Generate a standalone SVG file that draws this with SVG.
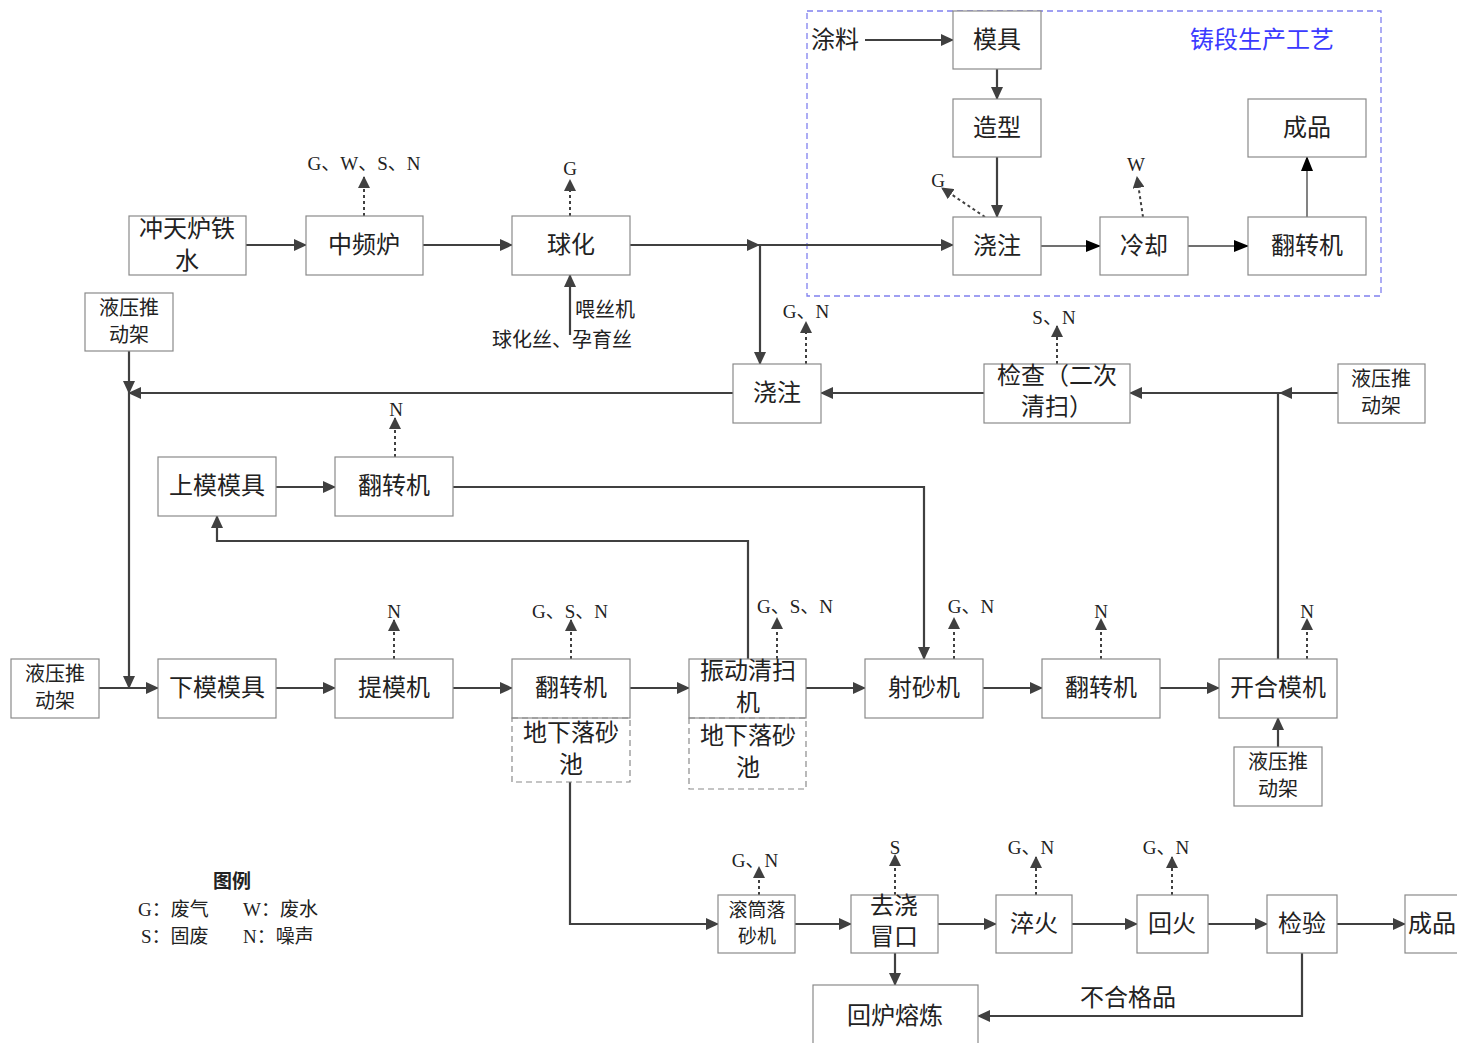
<svg xmlns="http://www.w3.org/2000/svg" width="1457" height="1043" viewBox="0 0 1457 1043">
<defs>
<marker id="arr" markerUnits="userSpaceOnUse" markerWidth="13" markerHeight="12" refX="12" refY="6" orient="auto"><path d="M0,0 L13,6 L0,12 z" fill="#404040"/></marker>
<marker id="arrk" markerUnits="userSpaceOnUse" markerWidth="15" markerHeight="12" refX="14" refY="6" orient="auto"><path d="M0,0 L15,6 L0,12 z" fill="#000"/></marker>
<marker id="arrs" markerUnits="userSpaceOnUse" markerWidth="12" markerHeight="12" refX="11" refY="6" orient="auto"><path d="M0,0 L12,6 L0,12 z" fill="#404040"/></marker>
<style>
.box{fill:#fff;stroke:#8a8a8a;stroke-width:1.2}
.dbox{fill:none;stroke:#8a8a8a;stroke-width:1.2;stroke-dasharray:6,4}
.t{font-family:"Liberation Serif","Noto Sans CJK SC",serif;font-size:24px;fill:#222;text-anchor:middle;dominant-baseline:central}
.ts{font-family:"Liberation Serif","Noto Sans CJK SC",serif;font-size:20px;fill:#222;text-anchor:middle;dominant-baseline:central}
.te{font-family:"Liberation Serif","Noto Sans CJK SC",serif;font-size:19px;fill:#222;text-anchor:middle;dominant-baseline:central}
.l{text-anchor:start}
.c{fill:none;stroke:#404040;stroke-width:2.2}
.ct{fill:none;stroke:#404040;stroke-width:1.3}
.d{fill:none;stroke:#404040;stroke-width:2;stroke-dasharray:3,3}
</style>
</defs>
<rect width="1457" height="1043" fill="#fff"/>

<g id="region">
<rect x="807" y="11" width="574" height="285" fill="none" stroke="#8080ee" stroke-width="1.3" stroke-dasharray="6,4"/>
<text class="t" x="1262" y="40" style="fill:#3a3aff">铸段生产工艺</text>
</g>

<g id="connectors">
<line class="c" x1="246" y1="245" x2="306" y2="245" marker-end="url(#arr)"/>
<line class="c" x1="423" y1="245" x2="512" y2="245" marker-end="url(#arr)"/>
<line class="c" x1="630" y1="245" x2="759" y2="245" marker-end="url(#arr)"/>
<line class="c" x1="759" y1="245" x2="953" y2="245" marker-end="url(#arr)"/>
<line class="c" x1="760" y1="245" x2="760" y2="364" marker-end="url(#arr)"/>
<line class="c" x1="570" y1="335" x2="570" y2="275" marker-end="url(#arr)"/>
<line class="c" x1="865" y1="40" x2="953" y2="40" marker-end="url(#arr)"/>
<line class="c" x1="997" y1="69" x2="997" y2="99" marker-end="url(#arr)"/>
<line class="c" x1="997" y1="157" x2="997" y2="217" marker-end="url(#arr)"/>
<line class="ct" x1="1041" y1="246" x2="1100" y2="246" marker-end="url(#arrk)"/>
<line class="ct" x1="1188" y1="246" x2="1248" y2="246" marker-end="url(#arrk)"/>
<line class="ct" x1="1307" y1="217" x2="1307" y2="157" marker-end="url(#arrk)"/>
<line class="c" x1="1338" y1="393" x2="1280" y2="393" marker-end="url(#arr)"/>
<line class="c" x1="1280" y1="393" x2="1130" y2="393" marker-end="url(#arr)"/>
<line class="c" x1="1278" y1="659" x2="1278" y2="393"/>
<line class="c" x1="984" y1="393" x2="821" y2="393" marker-end="url(#arr)"/>
<line class="c" x1="733" y1="393" x2="129" y2="393" marker-end="url(#arr)"/>
<line class="c" x1="129" y1="351" x2="129" y2="393" marker-end="url(#arr)"/>
<line class="c" x1="129" y1="393" x2="129" y2="688" marker-end="url(#arr)"/>
<line class="c" x1="276" y1="487" x2="335" y2="487" marker-end="url(#arr)"/>
<polyline class="c" points="453,487 924,487 924,659" marker-end="url(#arr)"/>
<polyline class="c" points="748,659 748,541 217,541 217,516" marker-end="url(#arr)"/>
<line class="c" x1="99" y1="688" x2="158" y2="688" marker-end="url(#arr)"/>
<line class="c" x1="276" y1="688" x2="335" y2="688" marker-end="url(#arr)"/>
<line class="c" x1="453" y1="688" x2="512" y2="688" marker-end="url(#arr)"/>
<line class="c" x1="630" y1="688" x2="689" y2="688" marker-end="url(#arr)"/>
<line class="c" x1="806" y1="688" x2="865" y2="688" marker-end="url(#arr)"/>
<line class="c" x1="983" y1="688" x2="1042" y2="688" marker-end="url(#arr)"/>
<line class="c" x1="1160" y1="688" x2="1219" y2="688" marker-end="url(#arr)"/>
<line class="c" x1="1278" y1="747" x2="1278" y2="718" marker-end="url(#arr)"/>
<polyline class="c" points="570,782 570,924 718,924" marker-end="url(#arr)"/>
<line class="c" x1="795" y1="924" x2="851" y2="924" marker-end="url(#arr)"/>
<line class="c" x1="938" y1="924" x2="996" y2="924" marker-end="url(#arr)"/>
<line class="c" x1="1072" y1="924" x2="1137" y2="924" marker-end="url(#arr)"/>
<line class="c" x1="1208" y1="924" x2="1267" y2="924" marker-end="url(#arr)"/>
<line class="c" x1="1337" y1="924" x2="1405" y2="924" marker-end="url(#arr)"/>
<line class="c" x1="895" y1="953" x2="895" y2="985" marker-end="url(#arr)"/>
<polyline class="c" points="1302,953 1302,1016 978,1016" marker-end="url(#arr)"/>
<line class="d" x1="364" y1="216" x2="364" y2="177" marker-end="url(#arrs)"/>
<line class="d" x1="570" y1="216" x2="570" y2="180" marker-end="url(#arrs)"/>
<line class="d" x1="985" y1="217" x2="942" y2="188" marker-end="url(#arrs)"/>
<line class="d" x1="1143" y1="217" x2="1137" y2="177" marker-end="url(#arrs)"/>
<line class="d" x1="806" y1="364" x2="806" y2="322" marker-end="url(#arrs)"/>
<line class="d" x1="1057" y1="364" x2="1057" y2="326" marker-end="url(#arrs)"/>
<line class="d" x1="395" y1="457" x2="395" y2="418" marker-end="url(#arrs)"/>
<line class="d" x1="394" y1="659" x2="394" y2="620" marker-end="url(#arrs)"/>
<line class="d" x1="571" y1="659" x2="571" y2="620" marker-end="url(#arrs)"/>
<line class="d" x1="777" y1="659" x2="777" y2="618" marker-end="url(#arrs)"/>
<line class="d" x1="954" y1="659" x2="954" y2="618" marker-end="url(#arrs)"/>
<line class="d" x1="1101" y1="659" x2="1101" y2="619" marker-end="url(#arrs)"/>
<line class="d" x1="1307" y1="659" x2="1307" y2="619" marker-end="url(#arrs)"/>
<line class="d" x1="759" y1="895" x2="759" y2="867" marker-end="url(#arrs)"/>
<line class="d" x1="895" y1="895" x2="895" y2="855" marker-end="url(#arrs)"/>
<line class="d" x1="1036" y1="895" x2="1036" y2="857" marker-end="url(#arrs)"/>
<line class="d" x1="1172" y1="895" x2="1172" y2="857" marker-end="url(#arrs)"/>
</g>

<g id="labels">
<text class="te" x="364" y="163">G、W、S、N</text>
<text class="te" x="570" y="168">G</text>
<text class="ts l" x="575" y="310">喂丝机</text>
<text class="ts l" x="492" y="340">球化丝、孕育丝</text>
<text class="t" x="835" y="40">涂料</text>
<text class="te" x="938" y="180">G</text>
<text class="te" x="1136" y="164">W</text>
<text class="te" x="806" y="311">G、N</text>
<text class="te" x="1054" y="317">S、N</text>
<text class="te" x="396" y="409">N</text>
<text class="te" x="394" y="611">N</text>
<text class="te" x="570" y="611">G、S、N</text>
<text class="te" x="795" y="606">G、S、N</text>
<text class="te" x="971" y="606">G、N</text>
<text class="te" x="1101" y="611">N</text>
<text class="te" x="1307" y="611">N</text>
<text class="te" x="755" y="860">G、N</text>
<text class="te" x="895" y="847">S</text>
<text class="te" x="1031" y="847">G、N</text>
<text class="te" x="1166" y="847">G、N</text>
<text class="t" x="1128" y="998">不合格品</text>
</g>

<g id="legend">
<text class="te" x="232" y="881" style="font-weight:bold">图例</text>
<text class="te l" x="138" y="909">G：废气</text>
<text class="te l" x="243" y="909">W：废水</text>
<text class="te l" x="141" y="936">S：固废</text>
<text class="te l" x="243" y="936">N：噪声</text>
</g>

<g id="n-chongtian"><rect class="box" x="129" y="216" width="117" height="59"/><text class="t" x="187" y="229">冲天炉铁</text><text class="t" x="187" y="261">水</text></g>
<g id="n-zhongpin"><rect class="box" x="306" y="216" width="117" height="59"/><text class="t" x="364" y="245">中频炉</text></g>
<g id="n-qiuhua"><rect class="box" x="512" y="216" width="118" height="59"/><text class="t" x="571" y="245">球化</text></g>
<g id="n-muju"><rect class="box" x="953" y="11" width="88" height="58"/><text class="t" x="997" y="40">模具</text></g>
<g id="n-zaoxing"><rect class="box" x="953" y="99" width="88" height="58"/><text class="t" x="997" y="128">造型</text></g>
<g id="n-jiaozhu1"><rect class="box" x="953" y="217" width="88" height="58"/><text class="t" x="997" y="246">浇注</text></g>
<g id="n-lengque"><rect class="box" x="1100" y="217" width="88" height="58"/><text class="t" x="1144" y="246">冷却</text></g>
<g id="n-chengpin1"><rect class="box" x="1248" y="99" width="118" height="58"/><text class="t" x="1307" y="128">成品</text></g>
<g id="n-fanzhuan1"><rect class="box" x="1248" y="217" width="118" height="58"/><text class="t" x="1307" y="246">翻转机</text></g>
<g id="n-yeya1"><rect class="box" x="85" y="293" width="88" height="58"/><text class="ts" x="129" y="308">液压推</text><text class="ts" x="129" y="335">动架</text></g>
<g id="n-jiaozhu2"><rect class="box" x="733" y="364" width="88" height="59"/><text class="t" x="777" y="393">浇注</text></g>
<g id="n-jiancha"><rect class="box" x="984" y="364" width="146" height="59"/><text class="t" x="1057" y="376">检查（二次</text><text class="t" x="1057" y="407">清扫）</text></g>
<g id="n-yeya2"><rect class="box" x="1338" y="364" width="87" height="59"/><text class="ts" x="1381" y="379">液压推</text><text class="ts" x="1381" y="406">动架</text></g>
<g id="n-shangmo"><rect class="box" x="158" y="457" width="118" height="59"/><text class="t" x="217" y="486">上模模具</text></g>
<g id="n-fanzhuan2"><rect class="box" x="335" y="457" width="118" height="59"/><text class="t" x="394" y="486">翻转机</text></g>
<g id="n-yeya3"><rect class="box" x="11" y="659" width="88" height="59"/><text class="ts" x="55" y="674">液压推</text><text class="ts" x="55" y="701">动架</text></g>
<g id="n-xiamo"><rect class="box" x="158" y="659" width="118" height="59"/><text class="t" x="217" y="688">下模模具</text></g>
<g id="n-timo"><rect class="box" x="335" y="659" width="118" height="59"/><text class="t" x="394" y="688">提模机</text></g>
<g id="n-fanzhuan3"><rect class="box" x="512" y="659" width="118" height="59"/><text class="t" x="571" y="688">翻转机</text></g>
<g id="n-luosha1"><rect class="dbox" x="512" y="718" width="118" height="64"/><text class="t" x="571" y="733">地下落砂</text><text class="t" x="571" y="765">池</text></g>
<g id="n-zhendong"><rect class="box" x="689" y="659" width="117" height="59"/><text class="t" x="748" y="671">振动清扫</text><text class="t" x="748" y="703">机</text></g>
<g id="n-luosha2"><rect class="dbox" x="689" y="718" width="117" height="71"/><text class="t" x="748" y="736">地下落砂</text><text class="t" x="748" y="768">池</text></g>
<g id="n-sheshaji"><rect class="box" x="865" y="659" width="118" height="59"/><text class="t" x="924" y="688">射砂机</text></g>
<g id="n-fanzhuan4"><rect class="box" x="1042" y="659" width="118" height="59"/><text class="t" x="1101" y="688">翻转机</text></g>
<g id="n-kaihe"><rect class="box" x="1219" y="659" width="118" height="59"/><text class="t" x="1278" y="688">开合模机</text></g>
<g id="n-yeya4"><rect class="box" x="1234" y="747" width="88" height="59"/><text class="ts" x="1278" y="762">液压推</text><text class="ts" x="1278" y="789">动架</text></g>
<g id="n-guntong"><rect class="box" x="718" y="895" width="77" height="58"/><text class="te" x="757" y="910">滚筒落</text><text class="te" x="757" y="936">砂机</text></g>
<g id="n-qujiao"><rect class="box" x="851" y="895" width="87" height="58"/><text class="t" x="894" y="906">去浇</text><text class="t" x="894" y="937">冒口</text></g>
<g id="n-cuihuo"><rect class="box" x="996" y="895" width="76" height="58"/><text class="t" x="1034" y="924">淬火</text></g>
<g id="n-huihuo"><rect class="box" x="1137" y="895" width="71" height="58"/><text class="t" x="1172" y="924">回火</text></g>
<g id="n-jianyan"><rect class="box" x="1267" y="895" width="70" height="58"/><text class="t" x="1302" y="924">检验</text></g>
<g id="n-chengpin2"><rect class="box" x="1405" y="895" width="60" height="58"/><text class="t l" x="1408" y="924">成品</text></g>
<g id="n-huilu"><rect class="box" x="813" y="985" width="165" height="65"/><text class="t" x="895" y="1016">回炉熔炼</text></g>
</svg>
